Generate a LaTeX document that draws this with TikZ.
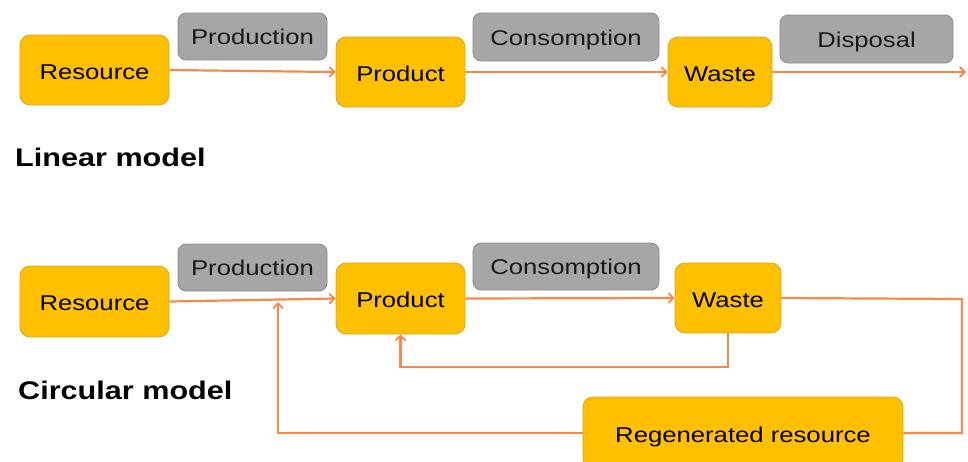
\documentclass[tikz,border=0pt]{standalone}
\usepackage{fontspec}
\setmainfont[FakeStretch=1.2]{Liberation Sans}
\usetikzlibrary{arrows.meta}
\definecolor{boxyellow}{HTML}{FFC000}
\definecolor{boxyellowline}{HTML}{D8A520}
\definecolor{boxgray}{HTML}{A6A6A6}
\definecolor{boxgrayline}{HTML}{8C8C8C}
\definecolor{flowline}{HTML}{F58A4B}
\tikzset{
  ybox/.style={draw=boxyellowline, line width=0.8pt, fill=boxyellow, rounded corners=10pt,
    font=\fontsize{21.4}{24}\selectfont, text=black, inner sep=0pt, text height=18pt, text depth=0pt},
  gbox/.style={draw=boxgrayline, line width=0.8pt, fill=boxgray, rounded corners=8pt,
    font=\fontsize{21.4}{24}\selectfont, text=black!90, inner sep=0pt, text height=16.5pt, text depth=0pt},
  flow/.style={draw=flowline, line width=2.2pt, -{Straight Barb[length=5pt,width=10pt,line width=1.8pt]}},
  flownt/.style={draw=flowline, line width=2.2pt},
  title/.style={font=\bfseries\fontsize{25.5}{28}\selectfont, anchor=west, inner sep=0pt}
}
\begin{document}
\begin{tikzpicture}[x=1pt,y=-1pt]
\useasboundingbox (0,0) rectangle (968,461);
\clip (0,0) rectangle (968,461);
% Linear model
\node[ybox, minimum width=149pt, minimum height=70pt] (res1) at (94.5,70) {Resource};
\node[gbox, minimum width=149pt, minimum height=47pt] (prod1) at (252.5,36.5) {Production};
\node[ybox, minimum width=129pt, minimum height=70pt] (pdt1) at (400.5,72) {Product};
\node[gbox, minimum width=186pt, minimum height=48pt] (cons1) at (566,37) {Consomption};
\node[ybox, minimum width=104pt, minimum height=70pt] (waste1) at (720,72) {Waste};
\node[gbox, minimum width=173pt, minimum height=48pt] (disp1) at (866.5,39) {Disposal};
\coordinate (end1) at (966,72);
\draw[flow] (res1.east) -- (pdt1.west);
\draw[flow] (pdt1.east) -- (waste1.west);
\draw[flow] (waste1.east) -- (end1);
\node[title] (lin) at (15,157) {Linear model};
% Circular model
\node[ybox, minimum width=149pt, minimum height=71pt] (res2) at (94.5,301.5) {Resource};
\node[gbox, minimum width=149pt, minimum height=47pt] (prod2) at (252.5,267.5) {Production};
\node[ybox, minimum width=129pt, minimum height=71pt] (pdt2) at (400.5,298.5) {Product};
\node[gbox, minimum width=186pt, minimum height=47pt] (cons2) at (566,266.5) {Consomption};
\node[ybox, minimum width=106pt, minimum height=70pt] (waste2) at (728,298) {Waste};
\node[ybox, minimum width=320pt, minimum height=72pt] (regen) at (743,433) {Regenerated resource};
\node[title] (circ) at (18,390) {Circular model};
\coordinate (join) at (278,302);
\coordinate (wdown) at (728,367);
\coordinate (wright) at (962,299);
\draw[flow] (res2.east) -- (pdt2.west);
\draw[flow] (pdt2.east) -- (waste2.west);
\draw[flow] (waste2.south) -- (wdown) -| (pdt2.south);
\draw[flownt] (waste2.east) -- (wright) |- (regen.east);
\draw[flow] (regen.west) -| (join);
\end{tikzpicture}
\end{document}
